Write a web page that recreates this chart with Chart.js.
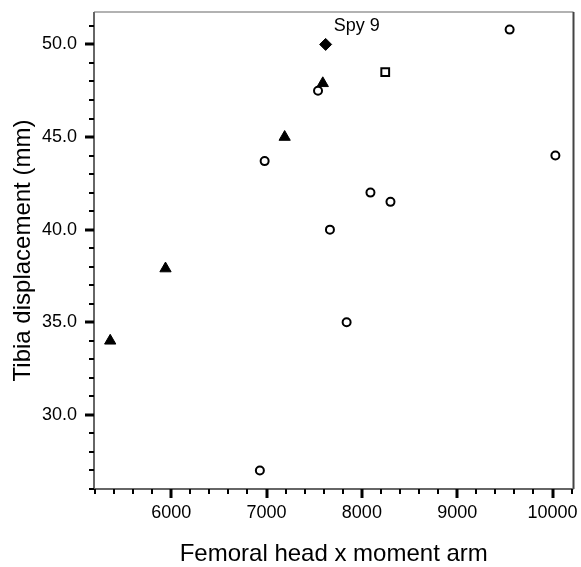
<!DOCTYPE html>
<html>
<head>
<meta charset="utf-8">
<script src="https://cdn.jsdelivr.net/npm/chart.js@4.4.0/dist/chart.umd.min.js"></script>
<style>
body { margin: 0; background: #fff; }
</style>
</head>
<body>
<canvas id="myChart" width="581" height="567"></canvas>
<script>
// open circles
const circleX = [9550, 10030, 8090, 8300, 7665, 7540, 6980, 7840, 6930];
const circleY = [50.8, 44.0, 42.0, 41.5, 40.0, 47.5, 43.7, 35.0, 27.0];
// filled triangles
const triangleX = [5360, 5940, 7190, 7590];
const triangleY = [34.0, 37.9, 45.0, 47.9];
// filled diamond (Spy 9)
const diamondX = [7620];
const diamondY = [50.0];
const diamondLabel = 'Spy 9';
// open square
const squareX = [8245];
const squareY = [48.5];

// axis ticks
const xTicks = [6000, 7000, 8000, 9000, 10000];
const yTicks = [30.0, 35.0, 40.0, 45.0, 50.0];
const xMinorStep = 200;
const yMinorStep = 1;

const FONT = "'Liberation Sans', Arial, sans-serif";

function pts(xs, ys) {
    return xs.map((x, i) => ({ x: x, y: ys[i] }));
}

// frame, major + minor ticks, and the Spy 9 note
const axisPlugin = {
    id: 'axisPlugin',
    beforeDatasetsDraw(chart) {
        const c = chart.ctx;
        const a = chart.chartArea;
        const xs = chart.scales.x;
        const ys = chart.scales.y;
        c.save();
        c.lineCap = 'butt';
        // top + right frame
        c.lineWidth = 1.5;
        c.strokeStyle = '#999';
        c.beginPath(); c.moveTo(a.left, a.top); c.lineTo(a.right, a.top); c.stroke();
        c.lineWidth = 2;
        c.strokeStyle = '#444';
        c.beginPath(); c.moveTo(a.right, a.top); c.lineTo(a.right, a.bottom); c.stroke();
        // axis lines
        c.strokeStyle = '#666';
        c.beginPath(); c.moveTo(a.left, a.top); c.lineTo(a.left, a.bottom); c.lineTo(a.right, a.bottom); c.stroke();

        c.strokeStyle = '#000';
        for (let v = Math.ceil(xs.min / xMinorStep) * xMinorStep; v <= xs.max; v += xMinorStep) {
            const major = xTicks.includes(v);
            const px = Math.round(xs.getPixelForValue(v));
            c.lineWidth = major ? 3 : 2;
            c.beginPath(); c.moveTo(px, a.bottom); c.lineTo(px, a.bottom + (major ? 9 : 5)); c.stroke();
        }
        for (let v = Math.ceil(ys.min / yMinorStep) * yMinorStep; v <= ys.max; v += yMinorStep) {
            const major = yTicks.includes(v);
            const py = Math.round(ys.getPixelForValue(v));
            c.lineWidth = major ? 3 : 2;
            c.beginPath(); c.moveTo(a.left, py); c.lineTo(a.left - (major ? 9 : 5), py); c.stroke();
        }
        c.restore();
    },
    afterDatasetsDraw(chart) {
        const c = chart.ctx;
        const p = chart.getDatasetMeta(2).data[0];
        c.save();
        c.font = '18px ' + FONT;
        c.fillStyle = '#000';
        c.textAlign = 'left';
        c.textBaseline = 'middle';
        c.fillText(diamondLabel, p.x + 8, p.y - 18);
        c.restore();
    }
};

const ctx = document.getElementById('myChart');
const myChart = new Chart(ctx, {
    type: 'scatter',
    data: {
        datasets: [
            {
                label: 'circles',
                data: pts(circleX, circleY),
                pointStyle: 'circle',
                pointRadius: 4,
                borderWidth: 2,
                borderColor: '#000',
                backgroundColor: '#fff'
            },
            {
                label: 'triangles',
                data: pts(triangleX, triangleY),
                pointStyle: 'triangle',
                pointRadius: 6.5,
                borderWidth: 1,
                borderColor: '#000',
                backgroundColor: '#000'
            },
            {
                label: diamondLabel,
                data: pts(diamondX, diamondY),
                pointStyle: 'rectRot',
                pointRadius: 6,
                borderWidth: 1,
                borderColor: '#000',
                backgroundColor: '#000'
            },
            {
                label: 'square',
                data: pts(squareX, squareY),
                pointStyle: 'rect',
                pointRadius: 5.5,
                borderWidth: 2,
                borderColor: '#000',
                backgroundColor: '#fff'
            }
        ]
    },
    options: {
        responsive: false,
        animation: false,
        events: [],
        layout: { padding: { left: 0, top: 12, right: 2, bottom: 0 } },
        plugins: {
            legend: { display: false },
            tooltip: { enabled: false }
        },
        scales: {
            x: {
                type: 'linear',
                min: 5190,
                max: 10220,
                grid: { display: false, drawTicks: false },
                border: { display: false },
                afterBuildTicks: (s) => { s.ticks = xTicks.map(v => ({ value: v })); },
                afterFit: (s) => { s.height = 78; s.paddingLeft = 0; s.paddingRight = 0; },
                ticks: {
                    padding: 13,
                    maxRotation: 0,
                    autoSkip: false,
                    color: '#000',
                    font: { family: FONT, size: 18 },
                    callback: (v) => String(v)
                },
                title: {
                    display: true,
                    text: 'Femoral head x moment arm',
                    color: '#000',
                    font: { family: FONT, size: 24 },
                    padding: { top: 0, bottom: -2 }
                }
            },
            y: {
                type: 'linear',
                min: 26,
                max: 51.75,
                grid: { display: false, drawTicks: false },
                border: { display: false },
                afterBuildTicks: (s) => { s.ticks = yTicks.map(v => ({ value: v })); },
                afterFit: (s) => { s.width = 94; s.paddingTop = 0; s.paddingBottom = 0; },
                ticks: {
                    padding: 17,
                    autoSkip: false,
                    color: '#000',
                    font: { family: FONT, size: 18 },
                    callback: (v) => Number(v).toFixed(1)
                },
                title: {
                    display: true,
                    text: 'Tibia displacement (mm)',
                    color: '#000',
                    font: { family: FONT, size: 24 },
                    padding: { top: 9, bottom: 0 }
                }
            }
        }
    },
    plugins: [axisPlugin]
});
</script>
</body>
</html>
